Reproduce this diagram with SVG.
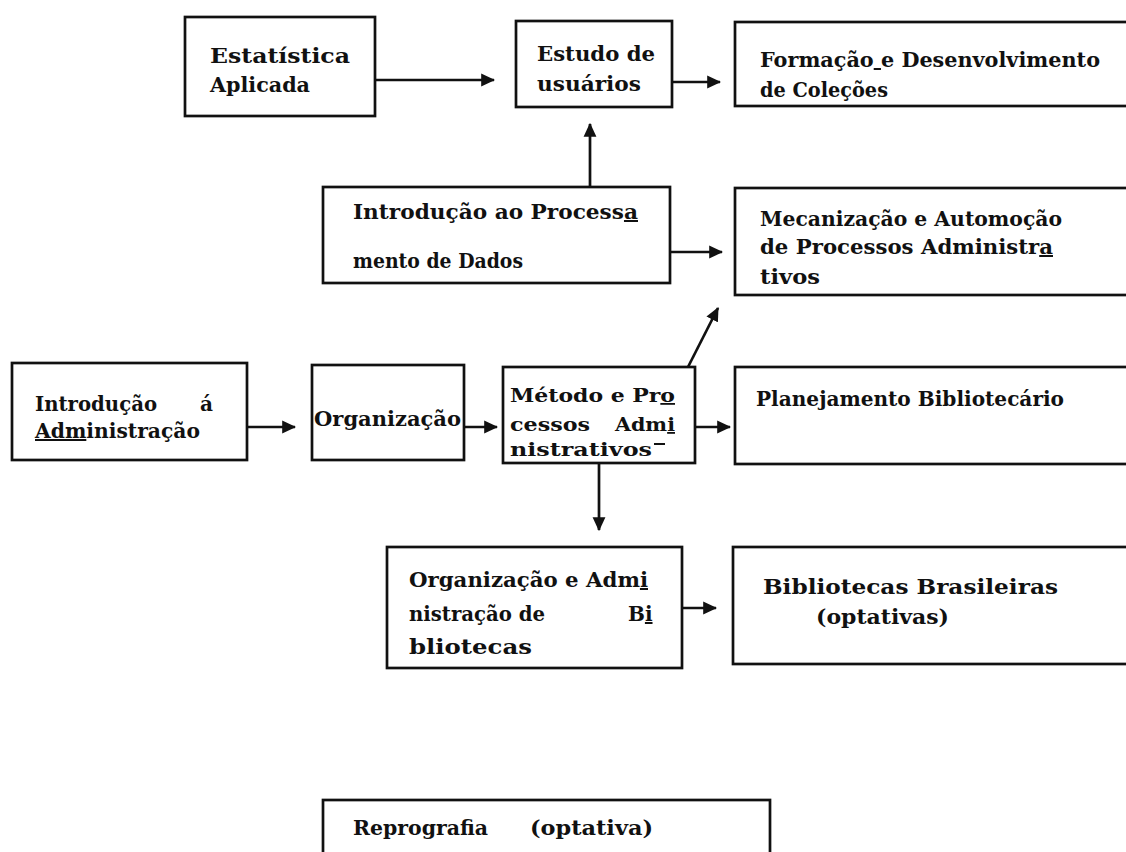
<svg xmlns="http://www.w3.org/2000/svg" width="1126" height="852" viewBox="0 0 1126 852">
<defs>
<marker id="ah" viewBox="0 0 12 12" refX="11" refY="6" markerWidth="14" markerHeight="14" markerUnits="userSpaceOnUse" orient="auto">
<path d="M0,0.5 L12,6 L0,11.5 z" fill="#111"/>
</marker>
<style>
.box{fill:none;stroke:#111;stroke-width:2.7}
.t{font-family:"DejaVu Serif","Liberation Serif",serif;font-weight:bold;font-size:20px;fill:#111}
.s{font-size:18px}
.u{text-decoration:underline}
.c{stroke:#111;stroke-width:2.7;fill:none;marker-end:url(#ah)}
</style>
</defs>
<rect width="1126" height="852" fill="#fff"/>
<g id="connectors">
<line class="c" x1="375" y1="80" x2="494" y2="80"/>
<line class="c" x1="672" y1="82" x2="720" y2="82"/>
<line class="c" x1="590" y1="187" x2="590" y2="124"/>
<line class="c" x1="670" y1="252" x2="722" y2="252"/>
<line class="c" x1="688" y1="367" x2="718" y2="308"/>
<line class="c" x1="247" y1="427" x2="295" y2="427"/>
<line class="c" x1="464" y1="427" x2="497" y2="427"/>
<line class="c" x1="695" y1="427" x2="730" y2="427"/>
<line class="c" x1="599" y1="463" x2="599" y2="530"/>
<line class="c" x1="682" y1="608" x2="716" y2="608"/>
</g>
<g id="estatistica">
<rect class="box" x="185" y="17" width="190" height="99"/>
<text class="t" x="210" y="63" textLength="140" lengthAdjust="spacingAndGlyphs">Estatística</text>
<text class="t" x="210" y="92" textLength="100" lengthAdjust="spacingAndGlyphs">Aplicada</text>
</g>
<g id="estudo">
<rect class="box" x="516" y="21" width="156" height="86"/>
<text class="t" x="537" y="61" textLength="118" lengthAdjust="spacingAndGlyphs">Estudo de</text>
<text class="t" x="537" y="91" textLength="104" lengthAdjust="spacingAndGlyphs">usuários</text>
</g>
<g id="formacao">
<rect class="box" x="735" y="22" width="420" height="84"/>
<text class="t" x="760" y="67" textLength="340" lengthAdjust="spacingAndGlyphs">Formação<tspan class="u"> </tspan>e Desenvolvimento</text>
<text class="t" x="760" y="97" textLength="128" lengthAdjust="spacingAndGlyphs">de Coleções</text>
</g>
<g id="mecanizacao">
<rect class="box" x="735" y="188" width="420" height="107"/>
<text class="t" x="760" y="226" textLength="302" lengthAdjust="spacingAndGlyphs">Mecanização e Automoção</text>
<text class="t" x="760" y="254" textLength="293" lengthAdjust="spacingAndGlyphs">de Processos Administr<tspan class="u">a</tspan></text>
<text class="t" x="760" y="284" textLength="60" lengthAdjust="spacingAndGlyphs">tivos</text>
</g>
<g id="processamento">
<rect class="box" x="323" y="187" width="347" height="96"/>
<text class="t" x="353" y="219" textLength="285" lengthAdjust="spacingAndGlyphs">Introdução ao Process<tspan class="u">a</tspan></text>
<text class="t" x="353" y="268" textLength="170" lengthAdjust="spacingAndGlyphs">mento de Dados</text>
</g>
<g id="intro-adm">
<rect class="box" x="12" y="363" width="235" height="97"/>
<text class="t" x="35" y="411"><tspan textLength="122" lengthAdjust="spacingAndGlyphs">Introdução</tspan> <tspan x="200">á</tspan></text>
<text class="t" x="35" y="438" textLength="165" lengthAdjust="spacingAndGlyphs"><tspan class="u">Adm</tspan>inistração</text>
</g>
<g id="organizacao">
<rect class="box" x="312" y="365" width="152" height="95"/>
<text class="t" x="314" y="426" textLength="147" lengthAdjust="spacingAndGlyphs">Organização</text>
</g>
<g id="metodo">
<rect class="box" x="503" y="367" width="192" height="96"/>
<text class="t s" x="510" y="402" textLength="165" lengthAdjust="spacingAndGlyphs">Método e Pr<tspan class="u">o</tspan></text>
<text class="t s" x="510" y="431"><tspan textLength="80" lengthAdjust="spacingAndGlyphs">cessos</tspan> <tspan x="615" textLength="60" lengthAdjust="spacingAndGlyphs">Adm<tspan class="u">i</tspan></tspan></text>
<text class="t s" x="510" y="456" textLength="142" lengthAdjust="spacingAndGlyphs">nistrativos</text>
<line x1="654" y1="444" x2="665" y2="444" stroke="#111" stroke-width="2"/>
</g>
<g id="planejamento">
<rect class="box" x="735" y="367" width="420" height="97"/>
<text class="t" x="756" y="406" textLength="308" lengthAdjust="spacingAndGlyphs">Planejamento Bibliotecário</text>
</g>
<g id="org-adm-bib">
<rect class="box" x="387" y="547" width="295" height="121"/>
<text class="t" x="409" y="587" textLength="239" lengthAdjust="spacingAndGlyphs">Organização e Adm<tspan class="u">i</tspan></text>
<text class="t" x="409" y="621"><tspan textLength="136" lengthAdjust="spacingAndGlyphs">nistração de</tspan> <tspan x="628">B<tspan class="u">i</tspan></tspan></text>
<text class="t" x="409" y="654" textLength="123" lengthAdjust="spacingAndGlyphs">bliotecas</text>
</g>
<g id="bib-brasileiras">
<rect class="box" x="733" y="547" width="420" height="117"/>
<text class="t" x="763" y="594" textLength="295" lengthAdjust="spacingAndGlyphs">Bibliotecas Brasileiras</text>
<text class="t" x="816" y="624" textLength="133" lengthAdjust="spacingAndGlyphs">(optativas)</text>
</g>
<g id="reprografia">
<rect class="box" x="323" y="800" width="447" height="80"/>
<text class="t" x="353" y="835"><tspan textLength="135" lengthAdjust="spacingAndGlyphs">Reprografia</tspan> <tspan x="530" textLength="123" lengthAdjust="spacingAndGlyphs">(optativa)</tspan></text>
</g>
</svg>
